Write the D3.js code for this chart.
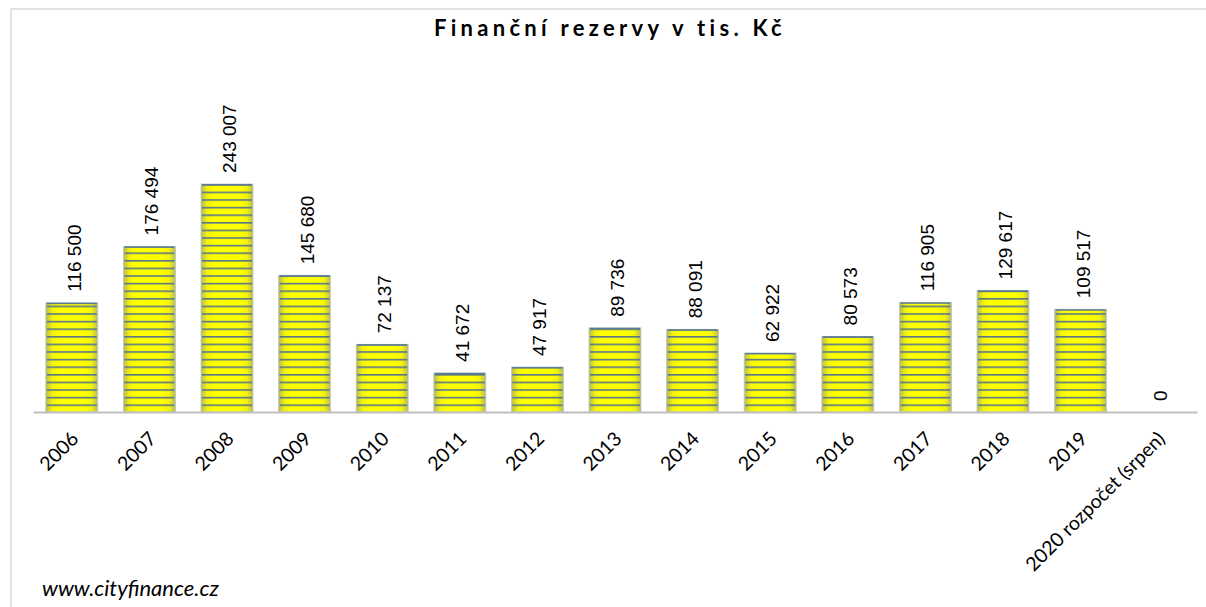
<!DOCTYPE html>
<html>
<head>
<meta charset="utf-8">
<script src="https://cdn.jsdelivr.net/npm/d3@7"></script>
<style>
  body { margin: 0; background: #fff; }
  svg { display: block; }
</style>
</head>
<body>
<svg width="1206" height="607"></svg>
<script>
const categories = ["2006", "2007", "2008", "2009", "2010", "2011", "2012", "2013",
    "2014", "2015", "2016", "2017", "2018", "2019", "2020 rozpočet (srpen)"];
const values = [116500, 176494, 243007, 145680, 72137, 41672, 47917, 89736,
    88091, 62922, 80573, 116905, 129617, 109517, 0];
const valueLabels = ["116 500", "176 494", "243 007", "145 680", "72 137", "41 672", "47 917", "89 736",
    "88 091", "62 922", "80 573", "116 905", "129 617", "109 517", "0"];

const data = categories.map((c, i) => ({ cat: c, value: values[i], label: valueLabels[i] }));

const baseY = 412;

const svg = d3.select("svg");

// chart frame
svg.append("rect")
    .attr("x", 11).attr("y", 9)
    .attr("width", 1206).attr("height", 620)
    .attr("fill", "none")
    .attr("stroke", "#d9d9d9")
    .attr("stroke-width", 1.5);

const defs = svg.append("defs");

// yellow body with darker edges
const grad = defs.append("linearGradient")
    .attr("id", "barGrad")
    .attr("x1", "0%").attr("x2", "100%").attr("y1", "0%").attr("y2", "0%");
grad.append("stop").attr("offset", "0%").attr("stop-color", "#b9bb52");
grad.append("stop").attr("offset", "12%").attr("stop-color", "#f2f20e");
grad.append("stop").attr("offset", "25%").attr("stop-color", "#ffff00");
grad.append("stop").attr("offset", "75%").attr("stop-color", "#ffff00");
grad.append("stop").attr("offset", "88%").attr("stop-color", "#f2f20e");
grad.append("stop").attr("offset", "100%").attr("stop-color", "#b9bb52");

// horizontal stripes, anchored on the baseline
const pat = defs.append("pattern")
    .attr("id", "stripes")
    .attr("patternUnits", "userSpaceOnUse")
    .attr("x", 0).attr("y", baseY)
    .attr("width", 10).attr("height", 7.6);
pat.append("rect")
    .attr("x", 0).attr("y", 0)
    .attr("width", 10).attr("height", 1.6)
    .attr("fill", "#4f7090");

const x = d3.scaleBand()
    .domain(categories)
    .range([33, 1197])
    .paddingInner(0.33)
    .paddingOuter(0.165);

const y = d3.scaleLinear()
    .domain([0, d3.max(values)])
    .range([baseY, 184]);

// title
svg.append("text")
    .attr("x", 610)
    .attr("y", 36)
    .attr("text-anchor", "middle")
    .style("font-family", "Lato, 'Open Sans', sans-serif")
    .style("font-weight", "bold")
    .style("font-size", "22px")
    .style("letter-spacing", "4.3px")
    .attr("fill", "#000")
    .text("Finanční rezervy v tis. Kč");

const bars = svg.append("g");

bars.selectAll(".bar")
    .data(data)
    .enter().append("rect")
    .attr("class", "bar")
    .attr("x", d => x(d.cat))
    .attr("y", d => y(d.value))
    .attr("width", x.bandwidth())
    .attr("height", d => baseY - y(d.value))
    .attr("fill", "url(#barGrad)")
    .attr("stroke", "#b4c6d8")
    .attr("stroke-width", 0.8);

bars.selectAll(".stripe")
    .data(data)
    .enter().append("rect")
    .attr("class", "stripe")
    .attr("x", d => x(d.cat) + 1)
    .attr("y", d => y(d.value))
    .attr("width", x.bandwidth() - 2)
    .attr("height", d => baseY - y(d.value))
    .attr("fill", "url(#stripes)")
    .attr("opacity", 0.95);

// top edge line
bars.selectAll(".topline")
    .data(data.filter(d => d.value > 0))
    .enter().append("rect")
    .attr("x", d => x(d.cat) + 1)
    .attr("y", d => y(d.value))
    .attr("width", x.bandwidth() - 2)
    .attr("height", 1.5)
    .attr("fill", "#5c7a96");

// axis line
const xAxis = svg.append("g")
    .attr("transform", `translate(0,${baseY})`)
    .call(d3.axisBottom(x).tickSize(0).tickFormat(""));
xAxis.select(".domain")
    .attr("stroke", "#bfbfbf")
    .attr("stroke-width", 2.2);

// category labels
svg.append("g")
    .selectAll("text")
    .data(categories)
    .enter().append("text")
    .attr("transform", d => `translate(${x(d) + x.bandwidth() / 2 + 8},${baseY + 28}) rotate(-45)`)
    .attr("text-anchor", "end")
    .style("font-family", "Lato, 'Open Sans', sans-serif")
    .style("font-size", "19.5px")
    .attr("fill", "#000")
    .text(d => d);

// value labels
svg.append("g")
    .selectAll("text")
    .data(data)
    .enter().append("text")
    .attr("transform", d => `translate(${x(d.cat) + x.bandwidth() / 2 + 9},${y(d.value) - 11}) rotate(-90)`)
    .attr("text-anchor", "start")
    .style("font-family", "'Liberation Sans', Arial, sans-serif")
    .style("font-size", "19px")
    .attr("fill", "#000")
    .text(d => d.label);

// source note
svg.append("text")
    .attr("x", 42)
    .attr("y", 596)
    .style("font-family", "Lato, 'Open Sans', sans-serif")
    .style("font-style", "italic")
    .style("font-size", "22px")
    .attr("fill", "#000")
    .text("www.cityfinance.cz");
</script>
</body>
</html>
